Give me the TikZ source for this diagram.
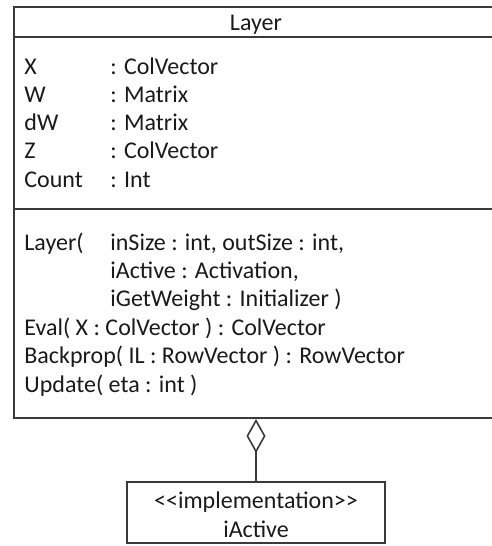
\documentclass[tikz,border=0pt]{standalone}
\usepackage{fontspec}
\setmainfont{Carlito}
\usepackage{xcolor}
\usepackage{tikz}
\usetikzlibrary{arrows.meta,positioning}
\definecolor{UmlLine}{HTML}{3A3A3A}
\definecolor{UmlText}{HTML}{1A1A1A}

\begin{document}
\begin{tikzpicture}[
  x=0.5pt,y=-0.5pt,
  font=\fontsize{12}{14}\selectfont,
  cls/.style={draw=UmlLine,line width=1pt,inner sep=0pt},
  sep/.style={draw=UmlLine,line width=1pt},
  txt/.style={anchor=base west,inner sep=0pt,text=UmlText},
  aggr/.style={draw=UmlLine,line width=0.8pt,-{Diamond[open,length=17pt,width=9.5pt,line width=0.8pt]}}
]
  \useasboundingbox (0,0) rectangle (492,546);
  % class boxes
  \node[cls,minimum width=242pt,minimum height=205.5pt] (layer) at (256,212.5) {};
  \node[cls,minimum width=129pt,minimum height=30.5pt] (impl) at (256,512.5) {};
  \draw[sep] (layer.west |- 0,37) -- (layer.east |- 0,37);
  \draw[sep] (layer.west |- 0,209) -- (layer.east |- 0,209);
  % title
  \node[txt,anchor=base] (title) at (256,30) {Layer};
  % attributes
  \node[txt] (aX) at (24,74) {X};
  \node[txt] (aW) at (24,102) {W};
  \node[txt] (adW) at (24,130) {dW};
  \node[txt] (aZ) at (24,158) {Z};
  \node[txt] (aCount) at (24,187) {Count};
  \node[txt] (tX) at (110,74) {: ColVector};
  \node[txt] (tW) at (110,102) {: Matrix};
  \node[txt] (tdW) at (110,130) {: Matrix};
  \node[txt] (tZ) at (110,158) {: ColVector};
  \node[txt] (tCount) at (110,187) {: Int};
  % operations
  \node[txt] (mLayer) at (24,250) {Layer(};
  \node[txt] (pIn) at (110,250) {inSize : int, outSize : int,};
  \node[txt] (pAct) at (110,278) {iActive : Activation,};
  \node[txt] (pInit) at (110,306) {iGetWeight : Initializer )};
  \node[txt] (mEval) at (24,335) {Eval( X : ColVector ) : ColVector};
  \node[txt] (mBack) at (24,363) {Backprop( IL : RowVector ) : RowVector};
  \node[txt] (mUpd) at (24,392) {Update( eta : int )};
  % interface
  \node[txt,anchor=base] (stereo) at (256,508) {{<}{<}implementation{>}{>}};
  \node[txt,anchor=base] (iname) at (256,537) {iActive};
  \draw[aggr] (impl.north) -- (layer.south);
\end{tikzpicture}
\end{document}
